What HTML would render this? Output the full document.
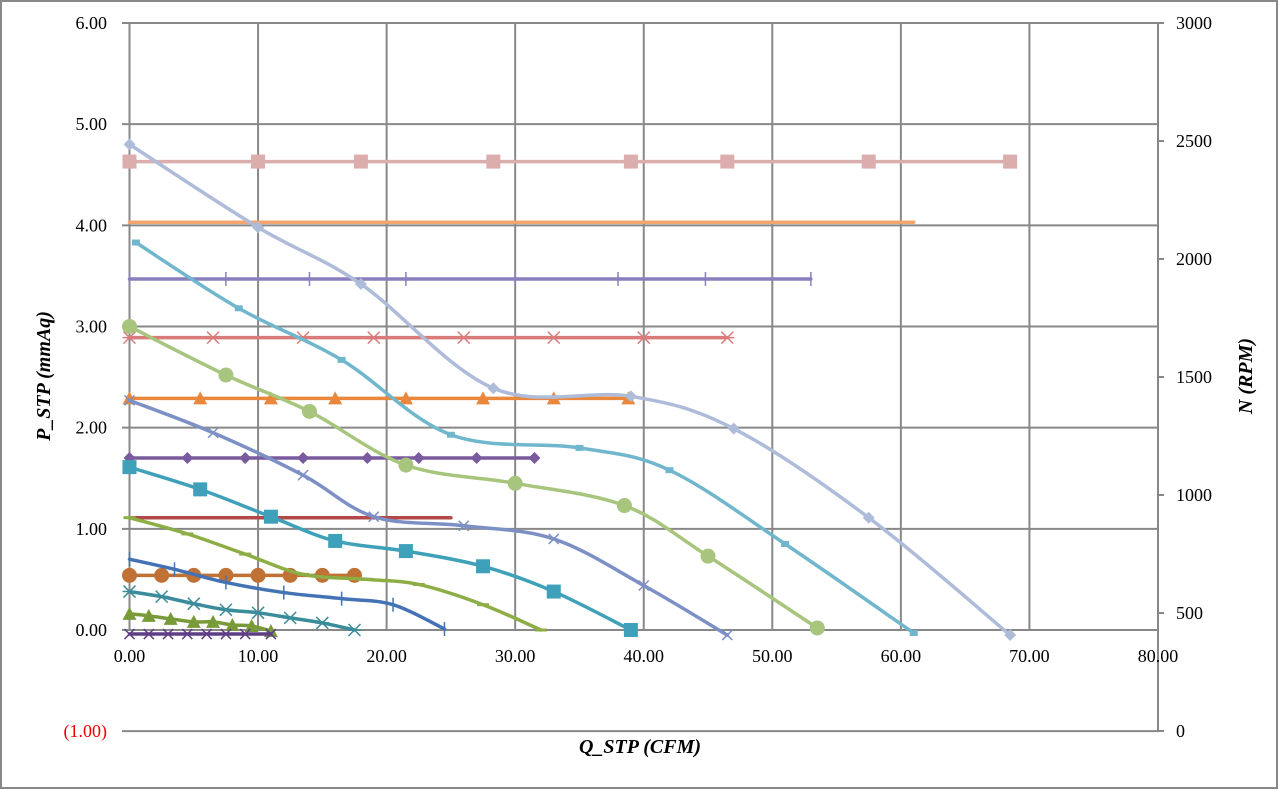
<!DOCTYPE html>
<html><head><meta charset="utf-8"><style>
html,body{margin:0;padding:0;background:#fff}
svg{display:block;font-family:"Liberation Serif",serif}
</style></head><body>
<svg id="s" width="1279" height="790" xmlns="http://www.w3.org/2000/svg">
<rect x="1" y="1" width="1276" height="787" fill="#fff" stroke="#888" stroke-width="2"/>
<g id="grid"></g><g id="ser"></g><g id="lab" font-size="18"></g>
<text x="640" y="753" font-size="20" font-weight="bold" font-style="italic" text-anchor="middle">Q_STP (CFM)</text>
<text transform="translate(50,376) rotate(-90)" font-size="20" font-weight="bold" font-style="italic" text-anchor="middle">P_STP (mmAq)</text>
<text transform="translate(1252,376) rotate(-90)" font-size="20" font-weight="bold" font-style="italic" text-anchor="middle">N (RPM)</text>
</svg>
<script>
const NS="http://www.w3.org/2000/svg";
const X=v=>129.5+v*12.856, Y=p=>630-p*101.17;
function el(p,t,a,txt){const e=document.createElementNS(NS,t);for(const k in a)e.setAttribute(k,a[k]);if(txt!==undefined)e.textContent=txt;p.appendChild(e);return e;}
const g=document.getElementById('grid'),L=document.getElementById('lab'),S=document.getElementById('ser');
for(let i=0;i<=8;i++){el(g,'line',{x1:X(i*10),x2:X(i*10),y1:23,y2:630,stroke:'#888','stroke-width':2});
 el(L,'text',{x:X(i*10),y:662,'text-anchor':'middle'},(i*10).toFixed(2));}
for(let j=-1;j<=6;j++){el(g,'line',{x1:122,x2:1158,y1:Y(j),y2:Y(j),stroke:'#888','stroke-width':2});
 el(L,'text',{x:107,y:Y(j)+6,'text-anchor':'end',fill:j<0?'#e00':'#000'},j<0?'(1.00)':j.toFixed(2));}
el(g,'line',{x1:1158,x2:1158,y1:23,y2:731,stroke:'#888','stroke-width':2});
for(let r=0;r<=3000;r+=500){const y=731-r*0.236;el(g,'line',{x1:1158,x2:1164,y1:y,y2:y,stroke:'#888','stroke-width':2});
 el(L,'text',{x:1176,y:y+6},String(r));}
function path(pts){pts=pts.map(p=>[X(p[0]),Y(p[1])]);let d='M'+pts[0];for(let i=0;i<pts.length-1;i++){const p0=pts[i-1]||pts[i],p1=pts[i],p2=pts[i+1],p3=pts[i+2]||p2;
 d+=' C'+[p1[0]+(p2[0]-p0[0])/6,p1[1]+(p2[1]-p0[1])/6]+' '+[p2[0]-(p3[0]-p1[0])/6,p2[1]-(p3[1]-p1[1])/6]+' '+p2;}return d;}
function mk(x,y,m,c){x=X(x);y=Y(y);
 if(m=='sq')el(S,'rect',{x:x-7,y:y-7,width:14,height:14,fill:c});
 else if(m=='ssq')el(S,'rect',{x:x-4,y:y-3,width:8,height:6,fill:c});
 else if(m=='di')el(S,'path',{d:`M${x} ${y-6}L${x+6} ${y}L${x} ${y+6}L${x-6} ${y}Z`,fill:c});
 else if(m=='ci')el(S,'circle',{cx:x,cy:y,r:7.5,fill:c});
 else if(m=='tr')el(S,'path',{d:`M${x} ${y-7}L${x+7} ${y+6}L${x-7} ${y+6}Z`,fill:c});
 else if(m=='x')el(S,'path',{d:`M${x-5} ${y-5}L${x+5} ${y+5}M${x-5} ${y+5}L${x+5} ${y-5}`,stroke:c,'stroke-width':1.5});
 else if(m=='pl')el(S,'path',{d:`M${x} ${y-7}L${x} ${y+7}`,stroke:c,'stroke-width':1.5});
 else if(m=='as')el(S,'path',{d:`M${x-6} ${y-6}L${x+6} ${y+6}M${x-6} ${y+6}L${x+6} ${y-6}M${x-7} ${y}L${x+7} ${y}`,stroke:c,'stroke-width':1.5});
 else if(m=='da')el(S,'path',{d:`M${x-6} ${y}L${x+6} ${y}`,stroke:c,'stroke-width':3});
}
function ser(pts,c,m,w){el(S,'path',{d:path(pts),fill:'none',stroke:c,'stroke-width':w||3.5,'stroke-linecap':'round'});if(m)pts.forEach(p=>mk(p[0],p[1],m,c));}
const H=(v,xs)=>xs.map(x=>[x,v]);
ser(H(4.63,[0,10,18,28.3,39,46.5,57.5,68.5]),'#dbadad','sq');
ser(H(4.03,[0,20,40,61]),'#f5a46e');
ser(H(3.47,[0,7.5,14,21.5,30,38,44.8,53]),'#8a7fbe','pl');
ser(H(2.89,[0,6.5,13.5,19,26,33,40,46.5]),'#d97b7b','as');
ser(H(2.29,[0,5.5,11,16,21.5,27.5,33,38.8]),'#e9883c','tr');
ser(H(1.70,[0,4.5,9,13.5,18.5,22.5,27,31.5]),'#7a5a9e','di');
ser(H(1.11,[0,12,25]),'#b34848');
ser(H(0.54,[0,2.5,5,7.5,10,12.5,15,17.5]),'#c07234','ci');
ser([[0,4.8],[10,3.98],[18,3.42],[28.3,2.39],[39,2.31],[47,1.99],[57.5,1.11],[68.5,-0.05]],'#aebcd9','di');
ser([[0.5,3.83],[8.5,3.18],[16.5,2.67],[25,1.93],[35,1.8],[42,1.58],[51,0.85],[61,-0.03]],'#70b6cd','ssq');
ser([[0,3.0],[7.5,2.52],[14,2.16],[21.5,1.63],[30,1.45],[38.5,1.23],[45,0.73],[53.5,0.02]],'#a7c57c','ci');
ser([[0,2.27],[6.5,1.95],[13.5,1.53],[19,1.12],[26,1.03],[33,0.9],[40,0.44],[46.5,-0.05]],'#7c90c5','x');
ser([[0,1.61],[5.5,1.39],[11,1.12],[16,0.88],[21.5,0.78],[27.5,0.63],[33,0.38],[39,0]],'#3ea1b9','sq');
ser([[0,1.11],[4.5,0.95],[9,0.75],[13.5,0.55],[18.5,0.5],[22.5,0.45],[27.5,0.25],[32,0]],'#8cae45','da');
ser([[0,0.7],[3.5,0.6],[7.5,0.47],[12,0.37],[16.5,0.31],[20.5,0.25],[24.5,0.01]],'#4373b4','pl');
ser([[0,0.38],[2.5,0.33],[5,0.26],[7.5,0.2],[10,0.17],[12.5,0.12],[15,0.07],[17.5,0.0]],'#3a8c9b','as');
ser([[0,0.16],[1.5,0.14],[3.2,0.11],[5,0.08],[6.5,0.08],[8,0.05],[9.5,0.04],[11,-0.01]],'#789a38','tr');
ser(H(-0.04,[0,1.5,3,4.5,6,7.5,9,11]),'#5e3e85','x');
</script>
</body></html>
